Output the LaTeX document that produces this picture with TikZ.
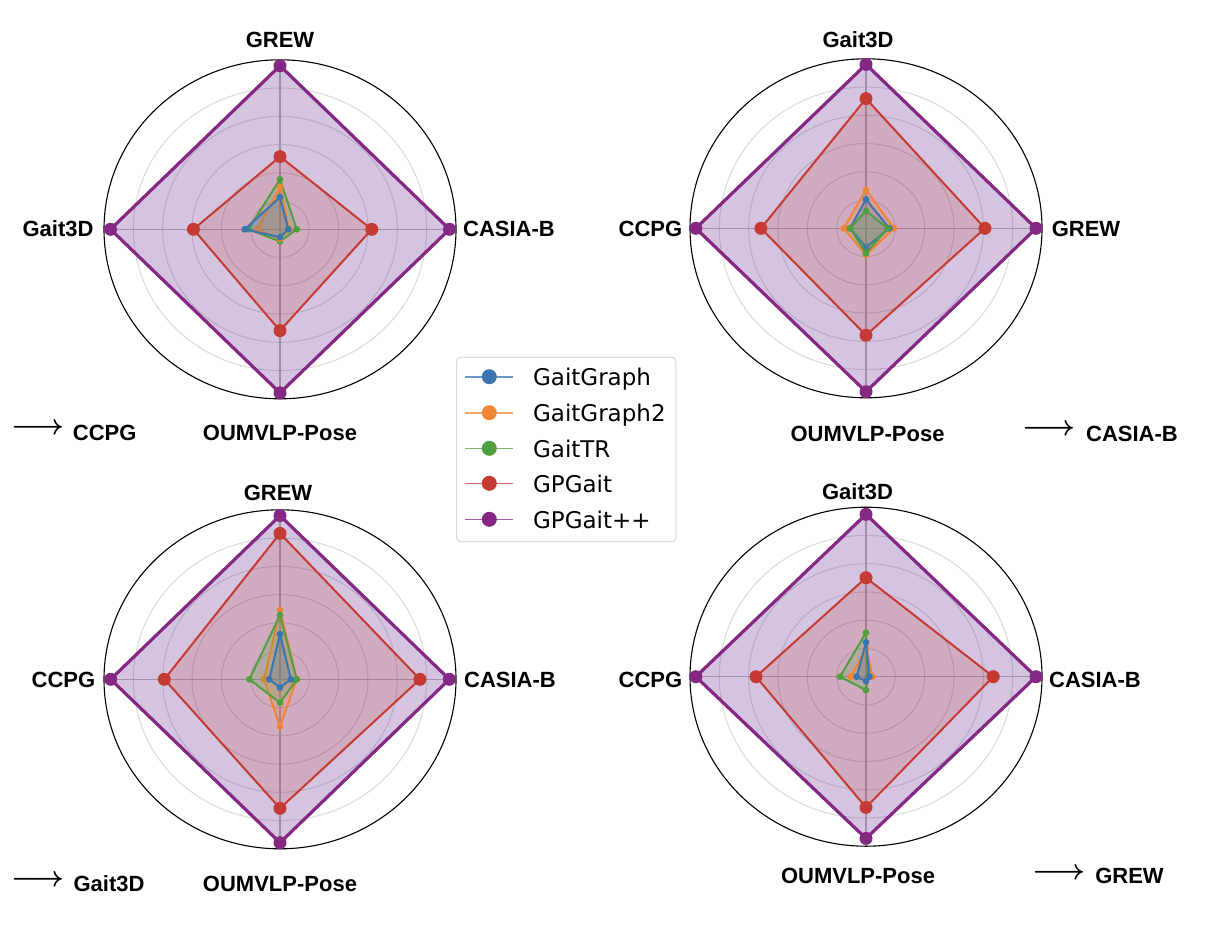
\documentclass[tikz,border=0pt]{standalone}
\usepackage{fontspec}
\setmainfont{Liberation Sans}
\newfontfamily\legendfont{DejaVu Sans}
\usetikzlibrary{calc}

\definecolor{ggblue}{RGB}{58,117,175}
\definecolor{ggorange}{RGB}{239,134,54}
\definecolor{trgreen}{RGB}{81,158,62}
\definecolor{gpred}{RGB}{197,58,50}
\definecolor{gppurple}{RGB}{132,40,132}
\definecolor{gppfill}{RGB}{102,45,145}
\definecolor{gridgray}{RGB}{218,218,218}
\definecolor{axisgray}{RGB}{182,182,182}

\tikzset{
  axlabel/.style={font=\bfseries\fontsize{11}{13}\selectfont, inner sep=0pt},
  tgtarrow/.style={font=\fontsize{14.5}{16}\selectfont\boldmath, inner sep=0pt},
  ringline/.style={draw=gridgray, line width=0.5pt},
  spokeline/.style={draw=axisgray, line width=0.55pt},
  outerring/.style={draw=black, line width=0.55pt},
  gg/.style={draw=ggblue, fill=ggblue, fill opacity=0.22, line width=1pt, line join=round},
  ggtwo/.style={draw=ggorange, fill=ggorange, fill opacity=0.22, line width=1pt, line join=round},
  gtr/.style={draw=trgreen, fill=trgreen, fill opacity=0.22, line width=1pt, line join=round},
  gpg/.style={draw=gpred, fill=gpred, fill opacity=0.18, line width=1pt, line join=round},
  gpgpp/.style={draw=gppurple, fill=gppfill, fill opacity=0.28, line width=1.6pt, line join=round},
  gg dot/.style={fill=ggblue, radius=1.7pt},
  ggtwo dot/.style={fill=ggorange, radius=1.7pt},
  gtr dot/.style={fill=trgreen, radius=1.7pt},
  gpg dot/.style={fill=gpred, radius=3.25pt},
  gpgpp dot/.style={fill=gppurple, radius=3.25pt},
  legbox/.style={draw=gridgray, rounded corners=2pt, line width=0.5pt, fill=white,
    minimum width=109.6pt, minimum height=92.2pt, inner sep=0pt},
  legline/.style={line width=0.8pt, draw opacity=0.75},
  legtext/.style={font=\legendfont\fontsize{11.5}{13}\selectfont, inner sep=0pt, anchor=base west},
}

% rings and spokes round a chart centre
\newcommand{\radargrid}[1]{%
  \foreach \k in {1,...,5}
    \draw[ringline] (#1) ellipse [x radius=176*\k/6, y radius=169.5*\k/6];
  \draw[spokeline] ($(#1)+(0,-169.5)$) -- ($(#1)+(0,169.5)$);
  \draw[spokeline] ($(#1)+(-176,0)$) -- ($(#1)+(176,0)$);
  \draw[outerring] (#1) ellipse [x radius=176, y radius=169.5];
}

% one series: chart, series, top, right, bottom, left
\newcommand{\radarpoly}[6]{%
  \coordinate (#1#2t) at ($(#1)+(0,-169.5*#3)$);
  \coordinate (#1#2r) at ($(#1)+(176*#4,0)$);
  \coordinate (#1#2b) at ($(#1)+(0,169.5*#5)$);
  \coordinate (#1#2l) at ($(#1)+(-176*#6,0)$);
  \draw[#2] (#1#2t) -- (#1#2r) -- (#1#2b) -- (#1#2l) -- cycle;
  \foreach \s in {t,r,b,l}
    \fill[#2 dot] (#1#2\s) circle;
}

\begin{document}
\begin{tikzpicture}[x=0.5pt, y=-0.5pt]
  \fill[white] (0,0) rectangle (1220,928);
  \useasboundingbox (0,0) rectangle (1220,928);

  \coordinate (c1) at (280,229.3);
  \coordinate (c2) at (866,228.3);
  \coordinate (c3) at (280,679.3);
  \coordinate (c4) at (866,676.7);

  \radargrid{c1}
  \radargrid{c2}
  \radargrid{c3}
  \radargrid{c4}

  % -> CCPG
  \radarpoly{c1}{gpgpp}{0.965}{0.963}{0.965}{0.963}
  \radarpoly{c1}{gpg}{0.429}{0.521}{0.598}{0.492}
  \radarpoly{c1}{gtr}{0.295}{0.095}{0.071}{0.18}
  \radarpoly{c1}{ggtwo}{0.25}{0.053}{0.057}{0.129}
  \radarpoly{c1}{gg}{0.19}{0.047}{0.047}{0.2}

  % -> CASIA-B
  \radarpoly{c2}{gpgpp}{0.967}{0.966}{0.964}{0.967}
  \radarpoly{c2}{gpg}{0.765}{0.676}{0.631}{0.597}
  \radarpoly{c2}{ggtwo}{0.226}{0.159}{0.157}{0.127}
  \radarpoly{c2}{gg}{0.171}{0.133}{0.112}{0.091}
  \radarpoly{c2}{gtr}{0.102}{0.123}{0.147}{0.091}

  % -> Gait3D
  \radarpoly{c3}{gpgpp}{0.966}{0.962}{0.964}{0.962}
  \radarpoly{c3}{gpg}{0.861}{0.795}{0.761}{0.657}
  \radarpoly{c3}{ggtwo}{0.409}{0.095}{0.279}{0.091}
  \radarpoly{c3}{gtr}{0.379}{0.095}{0.138}{0.174}
  \radarpoly{c3}{gg}{0.267}{0.062}{0.049}{0.061}

  % -> GREW
  \radarpoly{c4}{gpgpp}{0.958}{0.966}{0.954}{0.967}
  \radarpoly{c4}{gpg}{0.584}{0.723}{0.771}{0.625}
  \radarpoly{c4}{gtr}{0.26}{0.01}{0.079}{0.148}
  \radarpoly{c4}{ggtwo}{0.167}{0.038}{0.02}{0.087}
  \radarpoly{c4}{gg}{0.203}{0.02}{0.026}{0.053}

  % axis names
  \node[axlabel] (c1top) at (280,40) {GREW};
  \node[axlabel] (c1right) at (509,229) {CASIA-B};
  \node[axlabel] (c1bottom) at (280,433.3) {OUMVLP-Pose};
  \node[axlabel] (c1left) at (58,229) {Gait3D};
  \node[tgtarrow] (c1arrow) at (38,429.3) {$\longrightarrow$};
  \node[axlabel] (c1target) at (104.7,433.3) {CCPG};

  \node[axlabel] (c2top) at (858,40) {Gait3D};
  \node[axlabel] (c2right) at (1086,229) {GREW};
  \node[axlabel] (c2bottom) at (867.5,434) {OUMVLP-Pose};
  \node[axlabel] (c2left) at (650.5,229) {CCPG};
  \node[tgtarrow] (c2arrow) at (1049.2,430) {$\longrightarrow$};
  \node[axlabel] (c2target) at (1132,434) {CASIA-B};

  \node[axlabel] (c3top) at (278,493) {GREW};
  \node[axlabel] (c3right) at (510,680) {CASIA-B};
  \node[axlabel] (c3bottom) at (280,884) {OUMVLP-Pose};
  \node[axlabel] (c3left) at (63.5,680) {CCPG};
  \node[tgtarrow] (c3arrow) at (38,881) {$\longrightarrow$};
  \node[axlabel] (c3target) at (109,884) {Gait3D};

  \node[axlabel] (c4top) at (857.5,492) {Gait3D};
  \node[axlabel] (c4right) at (1095,680) {CASIA-B};
  \node[axlabel] (c4bottom) at (858,876) {OUMVLP-Pose};
  \node[axlabel] (c4left) at (650.5,680) {CCPG};
  \node[tgtarrow] (c4arrow) at (1059,874) {$\longrightarrow$};
  \node[axlabel] (c4target) at (1129.5,876) {GREW};

  % legend
  \node[legbox] (legend) at (566.3,449.5) {};
  \foreach \y/\col/\txt [count=\i] in {376.7/ggblue/GaitGraph, 412.7/ggorange/GaitGraph2,
      448.3/trgreen/GaitTR, 483.3/gpred/GPGait, 519.3/gppurple/GPGait++} {
    \draw[legline, \col] (465,\y) -- (512.7,\y);
    \fill[\col] (489.3,\y) circle [radius=3.75pt];
    \node[legtext] (legtxt\i) at (532.7,\y+8.8) {\txt};
  }
\end{tikzpicture}
\end{document}
